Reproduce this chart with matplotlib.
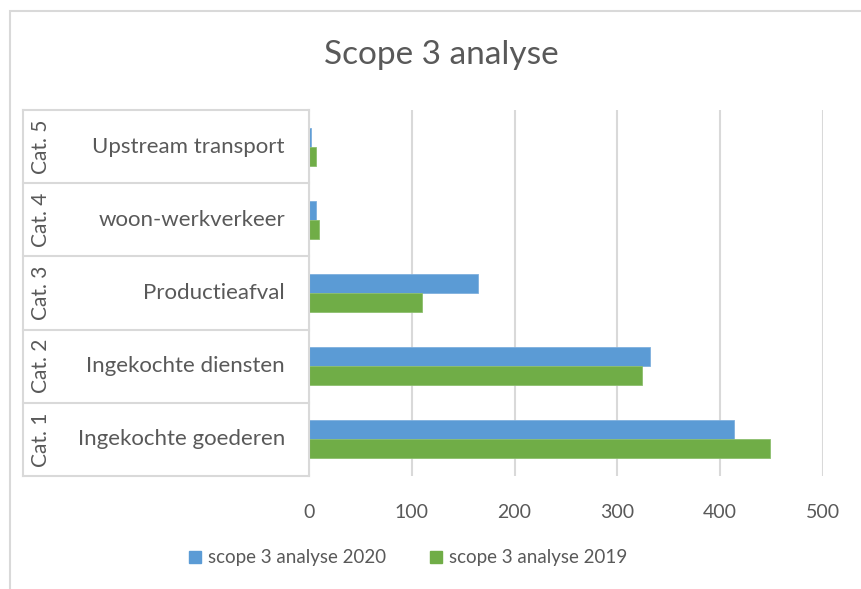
import matplotlib
matplotlib.use("Agg")
import matplotlib.pyplot as plt
import matplotlib.transforms as mtransforms
from matplotlib.patches import Patch, Rectangle
from matplotlib.lines import Line2D
import numpy as np

plt.rcParams['font.family'] = ['Lato', 'DejaVu Sans']

# data (bottom to top)
groups = ['Cat. 1', 'Cat. 2', 'Cat. 3', 'Cat. 4', 'Cat. 5']
labels = ['Ingekochte goederen', 'Ingekochte diensten', 'Productieafval',
          'woon-werkverkeer', 'Upstream transport']
vals_2020 = [413, 332, 164, 7, 2]
vals_2019 = [448, 324, 110, 10, 7]
series_names = ['scope 3 analyse 2020', 'scope 3 analyse 2019']
xticks = [0, 100, 200, 300, 400, 500]

blue = '#5B9BD5'
green = '#70AD47'
txt = '#595959'
grid = '#D9D9D9'

W, H = 861, 589
fig = plt.figure(figsize=(W / 100, H / 100), dpi=100)

# chart border (only top and left visible)
fig.add_artist(Rectangle((10 / W, -0.1), 1.2, 1 - 11 / H + 0.1,
                         transform=fig.transFigure, fill=False,
                         edgecolor=grid, linewidth=1.5))

ax = fig.add_axes([309 / W, (H - 476) / H, (823 - 309) / W, (476 - 110) / H])

y = np.arange(len(labels))
h = 0.26
ax.barh(y + h / 2, vals_2020, height=h, color=blue, edgecolor='#7FB0DE', linewidth=0.6)
ax.barh(y - h / 2, vals_2019, height=h, color=green, edgecolor='#8DBF6E', linewidth=0.6)

ax.set_ylim(-0.5, len(labels) - 0.5)
ax.set_xlim(0, 500)
ax.set_xticks(xticks)
ax.set_xticklabels([str(t) for t in xticks], fontsize=14, color=txt)
ax.tick_params(axis='x', length=0, pad=20)
ax.set_yticks([])
ax.grid(axis='x', color=grid, linewidth=1.5)
ax.set_axisbelow(True)
for s in ['top', 'right', 'bottom']:
    ax.spines[s].set_visible(False)
ax.spines['left'].set_color(grid)
ax.spines['left'].set_linewidth(1.5)

# multi-level category axis
tr = mtransforms.blended_transform_factory(fig.transFigure, ax.transData)
for b in np.arange(-0.5, len(labels), 1.0):
    fig.add_artist(Line2D([23 / W, 309 / W], [b, b], transform=tr,
                          color=grid, linewidth=1.5))
fig.add_artist(Line2D([23 / W, 23 / W], [-0.5, len(labels) - 0.5], transform=tr,
                      color=grid, linewidth=1.5))
for i in range(len(labels)):
    fig.text(285 / W, i, labels[i], transform=tr, ha='right', va='center',
             fontsize=16, color=txt)
    fig.text(41 / W, i, groups[i], transform=tr, ha='center', va='center',
             rotation=90, fontsize=15, color=txt)

fig.text(441 / W, 1 - 55 / H, 'Scope 3 analyse', ha='center', va='center',
         fontsize=24, color=txt)

handles = [Patch(color=blue), Patch(color=green)]
fig.legend(handles, series_names, loc='center', bbox_to_anchor=(408 / W, 1 - 558 / H),
           ncol=2, frameon=False, fontsize=13.5, labelcolor=txt,
           handlelength=0.65, handleheight=0.65, handletextpad=0.4, columnspacing=2.3)

fig.savefig('out.png', dpi=100)
